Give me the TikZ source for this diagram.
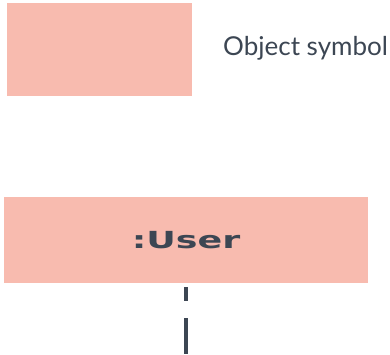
\documentclass[tikz,border=0pt]{standalone}
\usepackage{fontspec}
\setmainfont{Lato}
\newfontfamily\widefont[FakeStretch=1.55]{DejaVu Sans}
\usepackage{xcolor}
\usetikzlibrary{positioning,calc}
\definecolor{objfill}{HTML}{F8BBAF}
\definecolor{inkgray}{HTML}{3C4653}

\begin{document}
\begin{tikzpicture}[x=1pt,y=-1pt,
    objbox/.style={fill=objfill, draw=none, inner sep=0pt},
    lifeline/.style={draw=inkgray, line width=4.5pt, dash pattern=on 0pt off 4pt on 14pt off 17pt on 40pt off 4pt}]
    \useasboundingbox (0,0) rectangle (390,354);

    % Legend box
    \node [objbox, minimum width=185pt, minimum height=93pt] (legend) at (99.5,49.5) {};
    \node [anchor=west, inner sep=0pt, text=inkgray, font=\fontsize{26}{30}\selectfont] (legendtext) at (223,48) {Object symbol};

    % Object with lifeline
    \node [objbox, minimum width=364pt, minimum height=86pt, text=inkgray, font=\widefont\fontsize{23.5}{28}\selectfont\bfseries] (user) at (186,240) {:User};
    \coordinate (userend) at (186,354);
    \draw [lifeline] (user.south) -- (userend);
\end{tikzpicture}
\end{document}
